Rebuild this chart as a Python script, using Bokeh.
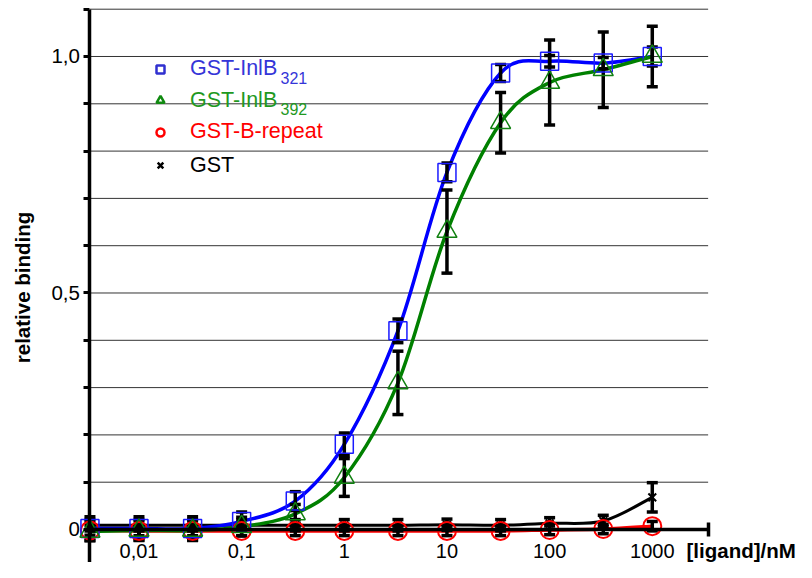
import numpy as np
from bokeh.plotting import figure
from bokeh.models import (Range1d, LinearAxis, LogAxis, FixedTicker, Label,
                          Legend, LegendItem, CustomJSTickFormatter)
from bokeh.embed import file_html
from bokeh.resources import INLINE

# ---------------- data ----------------
conc = [0.00333, 0.01, 0.0333, 0.1, 0.333, 1, 3.33, 10, 33.3, 100, 333, 1000]

inlb321 = [0.002, 0.002, 0.002, 0.017, 0.06, 0.18, 0.42, 0.755, 0.965, 0.99, 0.986, 1.0]
inlb321_err = [0.025, 0.025, 0.025, 0.02, 0.02, 0.024, 0.025, 0.02, 0.018, 0.012, 0.012, 0.02]

inlb392 = [-0.004, -0.002, -0.002, 0.006, 0.033, 0.11, 0.31, 0.63, 0.86, 0.945, 0.972, 1.0]
inlb392_err = [0.02, 0.02, 0.02, 0.02, 0.02, 0.04, 0.067, 0.088, 0.064, 0.09, 0.08, 0.064]

brepeat = [-0.002, -0.003, -0.003, -0.003, -0.003, -0.003, -0.003, -0.003, -0.003, -0.001, 0.001, 0.007]
brepeat_err = [0.01, 0.01, 0.01, 0.01, 0.01, 0.01, 0.01, 0.01, 0.01, 0.01, 0.01, 0.01]

gst = [0.009, 0.009, 0.009, 0.009, 0.009, 0.009, 0.009, 0.01, 0.009, 0.013, 0.018, 0.068]
gst_err = [0.012, 0.012, 0.012, 0.012, 0.012, 0.012, 0.012, 0.012, 0.012, 0.012, 0.012, 0.031]

x_ticks = [0.01, 0.1, 1, 10, 100, 1000]
x_tick_labels = ["0,01", "0,1", "1", "10", "100", "1000"]
x_axis_end = 3500
y_ticks = [0, 0.5, 1.0]
y_tick_labels = ["0", "0,5", "1,0"]
y_minor = [-0.1, 0.1, 0.2, 0.3, 0.4, 0.6, 0.7, 0.8, 0.9, 1.1]
grid_levels = [0.1, 0.2, 0.3, 0.4, 0.5, 0.6, 0.7, 0.8, 0.9, 1.0, 1.1]

FONT = "Liberation Sans"

p = figure(width=796, height=562, x_axis_type="log",
           x_range=Range1d(10 ** -3.3489, 10 ** 4.4048),
           y_range=Range1d(-0.06977, 1.11839),
           x_axis_location=None, y_axis_location=None,
           output_backend="svg", toolbar_location=None,
           min_border=0, outline_line_color=None)
p.grid.visible = False

# horizontal grid lines between y axis and x-axis end
p.segment(x0=[conc[0]] * len(grid_levels), y0=grid_levels,
          x1=[x_axis_end] * len(grid_levels), y1=grid_levels,
          line_color="#000000", line_alpha=0.8, line_width=1)

# axes
yaxis = LinearAxis(fixed_location=conc[0], bounds=(-0.1, 1.1),
                   ticker=FixedTicker(ticks=y_ticks, minor_ticks=y_minor),
                   major_label_overrides=dict(zip(y_ticks, y_tick_labels)))
yaxis.axis_line_width = 3.5
yaxis.major_tick_in = 0
yaxis.major_tick_out = 6
yaxis.major_tick_line_width = 3
yaxis.minor_tick_in = 0
yaxis.minor_tick_out = 6
yaxis.minor_tick_line_width = 3
yaxis.major_label_standoff = 4
yaxis.major_label_text_font = FONT
yaxis.major_label_text_font_size = "20.5px"
yaxis.major_label_text_color = "#000000"
p.add_layout(yaxis, "left")

x_fmt = CustomJSTickFormatter(args=dict(tvals=x_ticks, tlabels=x_tick_labels), code="""
let best = 0, dist = Infinity;
for (let i = 0; i < tvals.length; i++) {
  const d = Math.abs(Math.log10(tick) - Math.log10(tvals[i]));
  if (d < dist) { dist = d; best = i; }
}
return tlabels[best];
""")
xaxis = LogAxis(fixed_location=0, bounds=(conc[0], x_axis_end),
                ticker=FixedTicker(ticks=x_ticks, minor_ticks=[x_axis_end]),
                formatter=x_fmt)
xaxis.axis_line_width = 3.5
xaxis.major_tick_in = 0
xaxis.major_tick_out = 0
xaxis.minor_tick_in = 7
xaxis.minor_tick_out = 7
xaxis.minor_tick_line_width = 3.5
xaxis.major_label_standoff = 8
xaxis.major_label_text_font = FONT
xaxis.major_label_text_font_size = "20px"
xaxis.major_label_text_color = "#000000"
p.add_layout(xaxis, "below")


def smooth(xs, ys):
    u = np.log10(np.asarray(xs, dtype=float))
    y = np.asarray(ys, dtype=float)
    up = np.concatenate([[u[0]], u, [u[-1]]])
    yp = np.concatenate([[y[0]], y, [y[-1]]])
    i = np.arange(len(u) - 1)
    return dict(
        x0=10 ** u[:-1], y0=y[:-1], x1=10 ** u[1:], y1=y[1:],
        cx0=10 ** (u[:-1] + (up[i + 2] - up[i]) / 6),
        cy0=y[:-1] + (yp[i + 2] - yp[i]) / 6,
        cx1=10 ** (u[1:] - (up[i + 3] - up[i + 1]) / 6),
        cy1=y[1:] - (yp[i + 3] - yp[i + 1]) / 6)


series = [
    (gst, gst_err, "#000000", 3.0),
    (brepeat, brepeat_err, "#ff0000", 3.5),
    (inlb321, inlb321_err, "#0000ff", 3.5),
    (inlb392, inlb392_err, "#008000", 3.5),
]

for vals, err, col, lw in series:
    p.bezier(**smooth(conc, vals), line_color=col, line_width=lw, line_cap="round")

for vals, err, col, lw in series:
    lo = [v - e for v, e in zip(vals, err)]
    hi = [v + e for v, e in zip(vals, err)]
    p.segment(x0=conc, y0=lo, x1=conc, y1=hi, line_color="#000000", line_width=3.5)
    p.scatter(conc, lo, marker="dash", size=11, line_color="#000000", line_width=3.5)
    p.scatter(conc, hi, marker="dash", size=11, line_color="#000000", line_width=3.5)

p.scatter(conc, gst, marker="x", size=11, line_color="#000000", line_width=2)
p.scatter(conc, brepeat, marker="circle", size=18, fill_color=None,
          line_color="#ff0000", line_width=2)
p.scatter(conc, inlb321, marker="square", size=18, fill_color=None,
          line_color="#1a1aff", line_width=1.5)
p.scatter(conc, inlb392, marker="triangle", size=20, fill_color=None,
          line_color="#108010", line_width=1.5)

# ---------------- legend ----------------
legend_specs = [
    ("GST-InlB", "square", 10.5, "#3030d0", "#3535d8", 481.0),
    ("GST-InlB", "triangle", 14, "#108a10", "#1f991f", 449.5),
    ("GST-B-repeat", "circle", 10, "#ff0000", "#ff0000", 418.0),
    ("GST", "x", 10, "#000000", "#000000", 384.5),
]
for text, mk, sz, mcol, tcol, ly in legend_specs:
    r = p.scatter(x=[np.nan], y=[np.nan], marker=mk, size=sz, fill_color=None,
                  line_color=mcol, line_width=2.5)
    leg = Legend(items=[LegendItem(label=text, renderers=[r])],
                 location=(150, ly), padding=0, margin=0, spacing=0,
                 glyph_width=20, glyph_height=24, label_height=24,
                 label_standoff=20, label_text_font=FONT,
                 label_text_font_size="21.5px", label_text_color=tcol,
                 border_line_color=None, background_fill_alpha=0)
    p.add_layout(leg)

subs = [("321", "#3535d8", 485.0), ("392", "#1f991f", 453.5)]
for t, col, yy in subs:
    p.add_layout(Label(x=280, y=yy, x_units="screen", y_units="screen", text=t,
                       text_font=FONT, text_font_size="16px", text_color=col,
                       text_baseline="alphabetic", text_align="left"))

# axis titles
p.add_layout(Label(x=22, y=275, x_units="screen", y_units="screen",
                   text="relative binding", angle=np.pi / 2,
                   text_font=FONT, text_font_size="20.5px", text_font_style="bold",
                   text_align="center", text_baseline="middle", text_color="#000000"))
p.add_layout(Label(x=686, y=1, x_units="screen", y_units="screen",
                   text="[ligand]/nM", text_font=FONT, text_font_size="20.5px",
                   text_font_style="bold", text_align="left",
                   text_baseline="bottom", text_color="#000000"))

open("out.html", "w").write(file_html(p, INLINE))
